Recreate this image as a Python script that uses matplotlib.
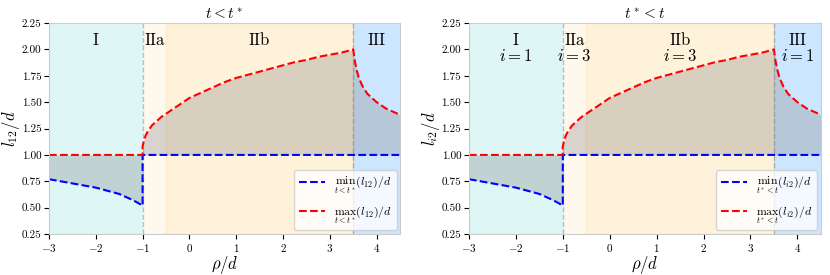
import numpy as np
import matplotlib
import matplotlib.pyplot as plt

plt.rcParams['font.family'] = 'cmr10'
plt.rcParams['mathtext.fontset'] = 'cm'
plt.rcParams['axes.formatter.use_mathtext'] = True

# curve samples
x_left = [-3.0, -2.5, -2.0, -1.5, -1.2, -1.0]
min_left = [0.77, 0.73, 0.69, 0.63, 0.57, 0.52]

x_mid = [-1.0, -0.97, -0.93, -0.88, -0.8, -0.7, -0.6, -0.4, -0.2, 0.0, 0.25, 0.5,
         0.75, 1.0, 1.25, 1.5, 1.75, 2.0, 2.25, 2.5, 2.75, 3.0, 3.25, 3.5]
max_mid = [1.08, 1.14, 1.19, 1.23, 1.28, 1.32, 1.36, 1.42, 1.48, 1.54, 1.59, 1.64,
           1.69, 1.73, 1.76, 1.79, 1.82, 1.85, 1.88, 1.90, 1.93, 1.95, 1.97, 2.00]

x_right = [3.5, 3.53, 3.57, 3.62, 3.7, 3.8, 3.9, 4.0, 4.1, 4.2, 4.35, 4.5]
max_right = [2.00, 1.90, 1.81, 1.73, 1.65, 1.58, 1.54, 1.50, 1.47, 1.44, 1.41, 1.38]

regions = ['I', 'IIa', 'IIb', 'III']
region_x = [-2.0, -0.75, 1.5, 4.0]
region_i = ['$i=1$', '$i=3$', '$i=3$', '$i=1$']

titles = ['$t<t^*$', '$t^*<t$']
ylabels = ['$l_{12}/d$', '$l_{i2}/d$']
leg_min = [r'$\underset{t<t^*}{\min}(l_{12})/d$', r'$\underset{t^*<t}{\min}(l_{i2})/d$']
leg_max = [r'$\underset{t<t^*}{\max}(l_{12})/d$', r'$\underset{t^*<t}{\max}(l_{i2})/d$']

fig = plt.figure(figsize=(8.3, 2.75), dpi=100)
axes = [fig.add_axes([0.059, 0.149, 0.423, 0.767]),
        fig.add_axes([0.565, 0.149, 0.424, 0.767])]

xs = np.array(x_left + x_mid + x_right)
mins = np.array(min_left + [1.0] * (len(x_mid) + len(x_right)))
maxs = np.array([1.0] * len(x_left) + max_mid + max_right)

for k, ax in enumerate(axes):
    ax.axvspan(-3, -1, color='c', alpha=0.13, lw=0)
    ax.axvspan(-1, -0.5, color='orange', alpha=0.07, lw=0)
    ax.axvspan(-0.5, 3.5, color='orange', alpha=0.14, lw=1)
    ax.axvspan(3.5, 4.5, color='dodgerblue', alpha=0.22, lw=0)
    ax.axvline(-1, color='gray', ls='--', lw=1, alpha=0.5)
    ax.axvline(3.5, color='gray', ls='--', lw=1, alpha=0.5)

    ax.fill_between(xs, mins, maxs, color='gray', alpha=0.3, lw=0)
    ax.plot([-3] + x_left + [-1, 4.5], [min_left[0]] + min_left + [1.0, 1.0],
            'b--', lw=1.5, label=leg_min[k])
    ax.plot([-3, -1] + x_mid + x_right, [1.0, 1.0] + max_mid + max_right,
            'r--', lw=1.5, label=leg_max[k])

    for j, name in enumerate(regions):
        ax.text(region_x[j], 2.09, name, ha='center', va='center', fontsize=12)
        if k == 1:
            ax.text(region_x[j], 1.94, region_i[j], ha='center', va='center', fontsize=12)

    ax.set_xlim(-3, 4.5)
    ax.set_ylim(0.25, 2.25)
    ax.set_yticks([0.25, 0.5, 0.75, 1.0, 1.25, 1.5, 1.75, 2.0, 2.25])
    ax.set_yticklabels(['0.25', '0.50', '0.75', '1.00', '1.25', '1.50', '1.75', '2.00', '2.25'])
    ax.tick_params(labelsize=8, pad=2)
    ax.set_title(titles[k], fontsize=11, pad=3)
    ax.set_ylabel(ylabels[k], fontsize=12)
    ax.yaxis.set_label_coords(-0.078, 0.5)
    ax.set_xlabel(r'$\rho/d$', fontsize=12, labelpad=0)
    for s in ax.spines.values():
        s.set_color('#cccccc')
    ax.legend(loc='lower right', fontsize=8.5, handlelength=2.2, labelspacing=0.7,
              borderaxespad=0.3)

fig.savefig('out.png', dpi=100)
